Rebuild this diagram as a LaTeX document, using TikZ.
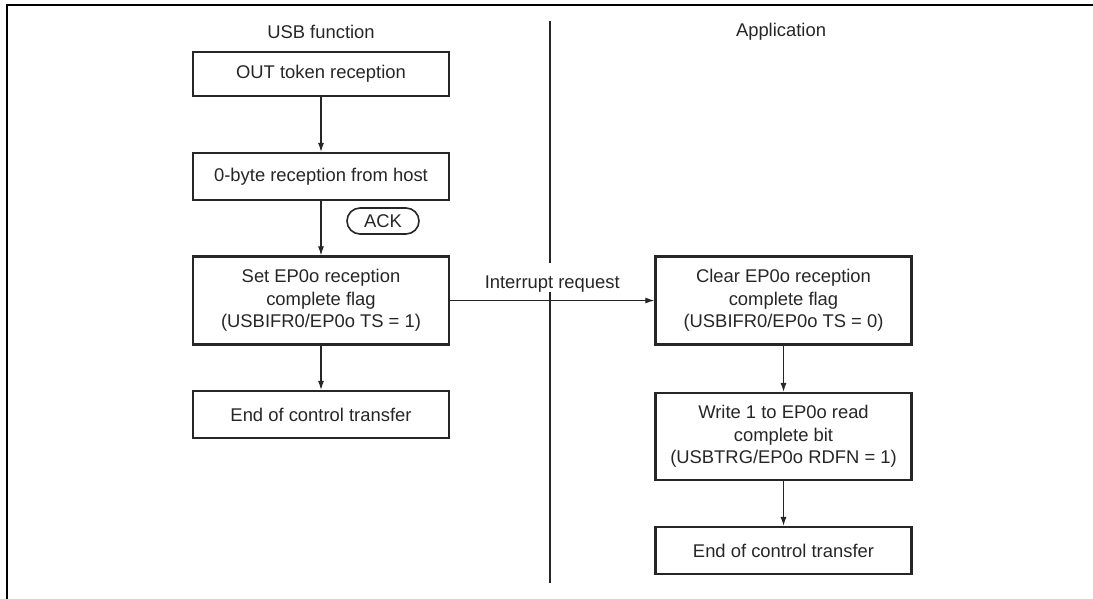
\documentclass[tikz,border=0pt]{standalone}
\usepackage{fontspec}
\setmainfont{Liberation Sans}
\usetikzlibrary{arrows.meta}
\begin{document}
\begin{tikzpicture}[x=1pt,y=-1pt,
  txt/.style={font=\fontsize{18.4}{22.5}\selectfont, text=black!85},
  flowbox/.style={txt, draw=black!85, line width=2.2pt, minimum width=256pt, inner sep=0pt, align=center},
  ackbox/.style={txt, draw=black!85, line width=1.6pt, rounded corners=13pt, minimum width=72pt, minimum height=26pt, inner sep=0pt},
  arr/.style={draw=black!85, line width=1.1pt, -{Latex[length=9pt,width=6pt]}},
  divline/.style={draw=black!85, line width=1.1pt}
]
\useasboundingbox (0,0) rectangle (1093,598);
% frame
\draw[line width=2pt, black] (6.8,599) -- (6.8,4.8) -- (1094,4.8);

% column titles
\node[txt] (t1) at (321,32) {USB function};
\node[txt] (t2) at (781,32) {Application};

% left column
\node[flowbox, minimum height=44pt] (b1) at (321,74) {OUT token reception};
\node[flowbox, minimum height=47pt] (b2) at (321,176.5) {0-byte reception from host};
\node[flowbox, minimum height=88pt] (b3) at (321,300.5) {Set EP0o reception\\complete flag\\(USBIFR0/EP0o TS = 1)};
\node[flowbox, minimum height=47pt] (b4) at (321,414.5) {End of control transfer};
\node[ackbox] (ack) at (383,221) {ACK};

% right column
\node[flowbox, minimum height=88pt] (r1) at (783.5,300.5) {Clear EP0o reception\\complete flag\\(USBIFR0/EP0o TS = 0)};
\node[flowbox, minimum height=87pt] (r2) at (783.5,436.5) {Write 1 to EP0o read\\complete bit\\(USBTRG/EP0o RDFN = 1)};
\node[flowbox, minimum height=47pt] (r3) at (783.5,550.5) {End of control transfer};

% divider
\coordinate (d1) at (550,21);
\coordinate (d2) at (550,263);
\coordinate (d3) at (550,292);
\coordinate (d4) at (550,583);
\draw[divline] (d1) -- (d2);
\draw[divline] (d3) -- (d4);

% connectors
\draw[arr] (b1) -- (b2);
\draw[arr] (b2) -- (b3);
\draw[arr] (b3) -- (b4);
\draw[arr] (b3.east) -- node[txt, above=4pt] (irq) {Interrupt request} (r1.west);
\draw[arr] (r1) -- (r2);
\draw[arr] (r2) -- (r3);
\end{tikzpicture}
\end{document}
